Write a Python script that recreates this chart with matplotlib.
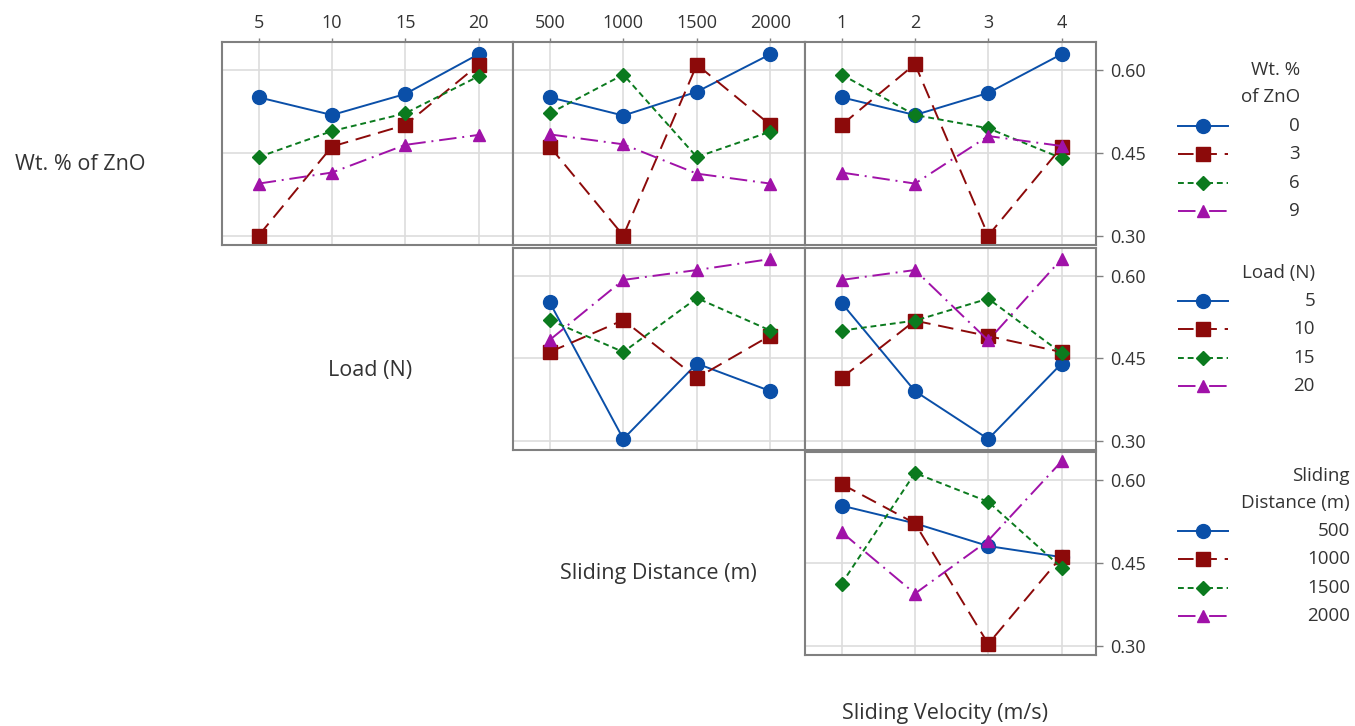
import matplotlib.pyplot as plt
import numpy as np

plt.rcParams['font.family'] = ['Open Sans', 'DejaVu Sans']

# factor levels
zno_levels = ['0', '3', '6', '9']
load_levels = ['5', '10', '15', '20']
dist_levels = ['500', '1000', '1500', '2000']
vel_levels = ['1', '2', '3', '4']

# mean response, rows = trace level, cols = x level
zno_by_load = [[0.550, 0.518, 0.556, 0.628],
               [0.300, 0.461, 0.500, 0.609],
               [0.442, 0.489, 0.521, 0.588],
               [0.394, 0.414, 0.464, 0.482]]
zno_by_dist = [[0.550, 0.517, 0.560, 0.628],
               [0.461, 0.300, 0.609, 0.500],
               [0.521, 0.591, 0.442, 0.488],
               [0.483, 0.465, 0.412, 0.394]]
zno_by_vel = [[0.550, 0.518, 0.558, 0.628],
              [0.500, 0.610, 0.300, 0.460],
              [0.591, 0.518, 0.494, 0.440],
              [0.414, 0.394, 0.480, 0.462]]
load_by_dist = [[0.551, 0.303, 0.440, 0.390],
                [0.461, 0.519, 0.414, 0.491],
                [0.519, 0.461, 0.559, 0.500],
                [0.483, 0.592, 0.610, 0.630]]
load_by_vel = [[0.550, 0.390, 0.303, 0.440],
               [0.414, 0.518, 0.490, 0.461],
               [0.500, 0.518, 0.558, 0.459],
               [0.592, 0.610, 0.482, 0.630]]
dist_by_vel = [[0.553, 0.521, 0.480, 0.460],
               [0.592, 0.521, 0.303, 0.461],
               [0.412, 0.612, 0.560, 0.441],
               [0.505, 0.394, 0.490, 0.633]]

colors = ['#0a4fa8', '#8c0a0a', '#0b7a1e', '#a012a8']
markers = ['o', 's', 'D', '^']
msizes = [10, 9.5, 7.5, 8.5]
styles = ['-', (0, (8, 4)), (0, (3, 2)), (0, (9, 3, 1, 3))]
gray = '#808080'
txt = '#333333'

fig = plt.figure(figsize=(13.55, 7.26), dpi=100)
W, H = 1355, 726

col_left = [222, 513, 805]
col_w = [291, 292, 291]
row_top = [42, 248, 452]
row_h = [203, 202, 203]

def make_ax(r, c):
    ax = fig.add_axes([col_left[c] / W, 1 - (row_top[r] + row_h[r]) / H,
                       col_w[c] / W, row_h[r] / H])
    ax.set_xlim(-0.5, 3.47)
    ax.set_ylim(0.283, 0.650)
    ax.set_xticks(range(4))
    ax.set_yticks([0.30, 0.45, 0.60])
    ax.grid(True, color='#dddddd', lw=1.2)
    ax.set_axisbelow(True)
    for s in ax.spines.values():
        s.set_color(gray)
        s.set_linewidth(1.5)
    ax.tick_params(bottom=False, left=False, labelbottom=False,
                   labelleft=False, top=False, right=False)
    return ax

panels = [(0, 0, zno_by_load, load_levels),
          (0, 1, zno_by_dist, dist_levels),
          (0, 2, zno_by_vel, vel_levels),
          (1, 1, load_by_dist, dist_levels),
          (1, 2, load_by_vel, vel_levels),
          (2, 2, dist_by_vel, vel_levels)]

for r, c, data, xl in panels:
    ax = make_ax(r, c)
    for i, ys in enumerate(data):
        ax.plot(range(4), ys, color=colors[i], ls=styles[i], lw=1.4,
                marker=markers[i], ms=msizes[i], mec=colors[i], mfc=colors[i])
    if r == 0:
        ax.tick_params(axis='x', top=True, labeltop=True, length=3, width=1,
                       color=gray, pad=4.5, labelsize=13, labelcolor=txt)
        ax.set_xticklabels(xl)
    if c == 2:
        ax.tick_params(axis='y', right=True, labelright=True, length=5, width=1,
                       color=gray, pad=5, labelsize=13, labelcolor=txt)
        ax.set_yticklabels(['0.30', '0.45', '0.60'])

# row / column factor labels
lab = dict(fontsize=15.5, color=txt, ha='center', va='center')
fig.text(80 / W, 1 - 164 / H, 'Wt. % of ZnO', **lab)
fig.text(370 / W, 1 - 370 / H, 'Load (N)', **lab)
fig.text(658 / W, 1 - 573 / H, 'Sliding Distance (m)', **lab)
fig.text(945 / W, 1 - 714 / H, 'Sliding Velocity (m/s)', **lab)

# legends
def legend(title_lines, title_y, levels, entry_y, right_x):
    for k, t in enumerate(title_lines):
        fig.text(right_x / W, 1 - (title_y + 27 * k) / H, t, fontsize=13.5,
                 color=txt, ha='right', va='center')
    for i, lv in enumerate(levels):
        y = 1 - (entry_y + 28.3 * i) / H
        fig.lines.append(plt.Line2D([1178 / W, 1228 / W], [y, y],
                                    transform=fig.transFigure, color=colors[i],
                                    ls=styles[i], lw=1.4))
        fig.lines.append(plt.Line2D([1203 / W], [y], transform=fig.transFigure,
                                    color=colors[i], marker=markers[i],
                                    ms=msizes[i], ls='none'))
        fig.text(right_x / W, y, lv, fontsize=13.5, color=txt,
                 ha='right', va='center')

legend(['Wt. %', 'of ZnO'], 70, zno_levels, 126, 1300)
legend(['Load (N)'], 273, load_levels, 301, 1315)
legend(['Sliding', 'Distance (m)'], 476, dist_levels, 531, 1350)

fig.savefig('out.png', dpi=100, facecolor='white')
